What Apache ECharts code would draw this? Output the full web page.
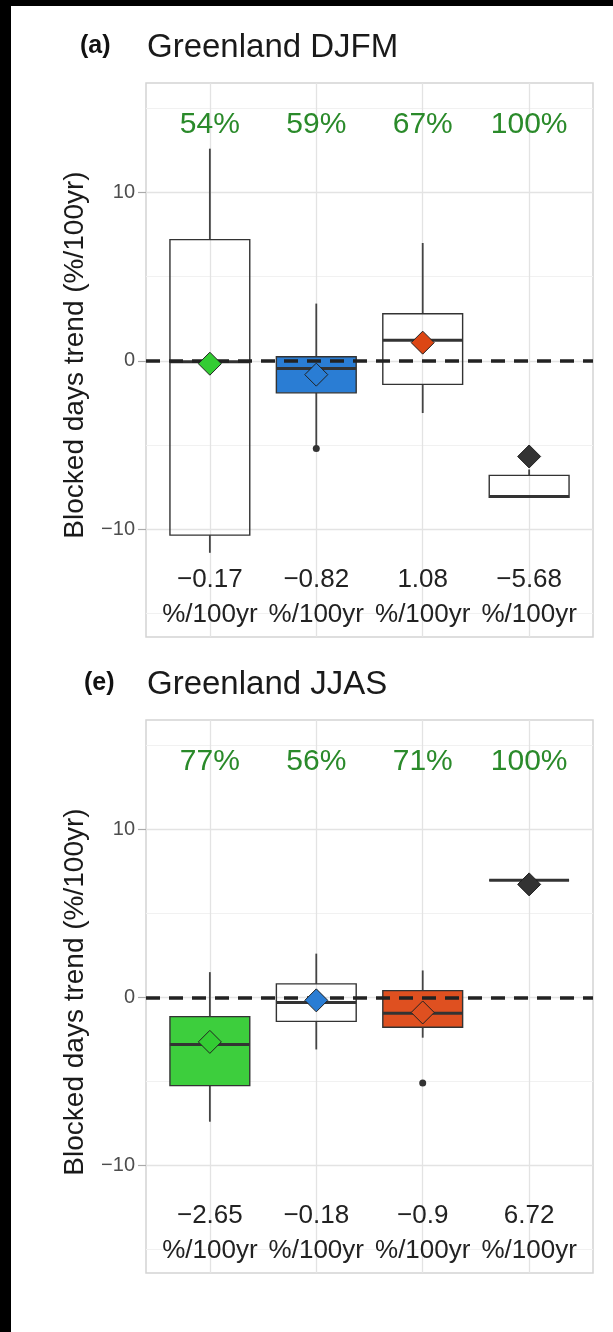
<!DOCTYPE html>
<html>
<head>
<meta charset="utf-8">
<title>Greenland blocked days trend</title>
<script src="https://cdn.jsdelivr.net/npm/echarts@6.0.0/dist/echarts.min.js"></script>
<style>
  html, body { margin: 0; padding: 0; background: #fff; }
  #main { width: 613px; height: 1332px; }
</style>
</head>
<body>
<div id="main"></div>
<script>
// x positions of the four boxes (discrete positions, ggplot style)
var positions = [1, 2, 3, 4];
var yTicks = [-10, 0, 10];
var yMinor = [-15, -5, 5, 15];

// (a) Greenland DJFM
var djfmLow    = [-11.4, -5.1, -3.1, -8.1];
var djfmQ1     = [-10.35, -1.9, -1.4, -8.1];
var djfmMedian = [-0.05, -0.45, 1.23, -8.05];
var djfmQ3     = [7.2, 0.24, 2.8, -6.8];
var djfmHigh   = [12.6, 3.4, 7.0, -6.45];
var djfmMean   = [-0.17, -0.82, 1.08, -5.68];
var djfmOutliers = [[2, -5.2]];
var djfmPct    = ['54%', '59%', '67%', '100%'];
var djfmTrend  = ['−0.17', '−0.82', '1.08', '−5.68'];

// (e) Greenland JJAS
var jjasLow    = [-7.4, -3.1, -2.4, 6.97];
var jjasQ1     = [-5.25, -1.43, -1.78, 6.97];
var jjasMedian = [-2.8, -0.3, -0.95, 6.97];
var jjasQ3     = [-1.15, 0.8, 0.4, 6.97];
var jjasHigh   = [1.5, 2.6, 1.6, 6.97];
var jjasMean   = [-2.65, -0.18, -0.9, 6.72];
var jjasOutliers = [[3, -5.1]];
var jjasPct    = ['77%', '56%', '71%', '100%'];
var jjasTrend  = ['−2.65', '−0.18', '−0.9', '6.72'];

var unitText = '%/100yr';

var FONT = '"Liberation Sans", Arial, sans-serif';
// white boxes are left unfilled so the grid shows through
var djfmFill = [null, '#2a7dd4', null, null];
var djfmMeanColor = ['#33cc33', '#2a7dd4', '#dc4614', '#333333'];
var jjasFill = ['#3dce3d', null, '#df5020', null];
var jjasMeanColor = ['#33cc33', '#2a7dd4', '#df5020', '#333333'];

function boxSeries(idx, low, q1, med, q3, high, fills) {
  return {
    type: 'custom',
    xAxisIndex: idx,
    yAxisIndex: idx,
    z: 2,
    silent: true,
    encode: { x: 0, y: [1, 2, 3, 4, 5] },
    data: positions.map(function (x, i) {
      return [x, low[i], q1[i], med[i], q3[i], high[i]];
    }),
    renderItem: function (params, api) {
      var x = api.value(0);
      var half = 0.375;
      var pLo = api.coord([x, api.value(1)]);
      var pQ1 = api.coord([x, api.value(2)]);
      var pMed = api.coord([x, api.value(3)]);
      var pQ3 = api.coord([x, api.value(4)]);
      var pHi = api.coord([x, api.value(5)]);
      var left = api.coord([x - half, 0])[0];
      var right = api.coord([x + half, 0])[0];
      var whisker = { stroke: '#444', lineWidth: 1.8 };
      var fill = fills[params.dataIndex];
      return {
        type: 'group',
        children: [
          { type: 'line', shape: { x1: pHi[0], y1: pHi[1], x2: pQ3[0], y2: pQ3[1] }, style: whisker },
          { type: 'line', shape: { x1: pQ1[0], y1: pQ1[1], x2: pLo[0], y2: pLo[1] }, style: whisker },
          { type: 'rect', shape: { x: left, y: pQ3[1], width: right - left, height: pQ1[1] - pQ3[1] },
            style: { fill: fill || 'rgba(255,255,255,0)', stroke: '#333', lineWidth: 1.4 } },
          { type: 'line', shape: { x1: left, y1: pMed[1], x2: right, y2: pMed[1] },
            style: { stroke: '#333', lineWidth: 3 } }
        ]
      };
    }
  };
}

function gridLines(idx) {
  var lines = [];
  yMinor.forEach(function (v) {
    lines.push({ yAxis: v, lineStyle: { color: '#f1f1f1', width: 1, type: 'solid' } });
  });
  yTicks.forEach(function (v) {
    lines.push({ yAxis: v, lineStyle: { color: '#e3e3e3', width: 1.3, type: 'solid' } });
  });
  positions.forEach(function (v) {
    lines.push({ xAxis: v, lineStyle: { color: '#e3e3e3', width: 1.3, type: 'solid' } });
  });
  return {
    type: 'line', xAxisIndex: idx, yAxisIndex: idx, data: [], z: 1, silent: true,
    markLine: { z: 1, symbol: 'none', silent: true, animation: false, label: { show: false },
      emphasis: { disabled: true }, lineStyle: { type: 'solid' }, data: lines }
  };
}

function zeroLine(idx) {
  return {
    type: 'line', xAxisIndex: idx, yAxisIndex: idx, data: [], z: 3, silent: true,
    markLine: { z: 3, symbol: 'none', silent: true, animation: false, label: { show: false },
      emphasis: { disabled: true },
      lineStyle: { color: '#222', width: 3.6, type: [14, 9] },
      data: [{ yAxis: 0 }] }
  };
}

function meanSeries(idx, means, colors) {
  return {
    type: 'scatter', xAxisIndex: idx, yAxisIndex: idx, z: 5, silent: true,
    symbol: 'diamond', symbolSize: [23, 23],
    itemStyle: { borderColor: '#222', borderWidth: 1, opacity: 1 },
    data: positions.map(function (x, i) {
      return { value: [x, means[i]], itemStyle: { color: colors[i] } };
    })
  };
}

function outlierSeries(idx, pts) {
  return {
    type: 'scatter', xAxisIndex: idx, yAxisIndex: idx, z: 4, silent: true,
    symbol: 'circle', symbolSize: 7, itemStyle: { color: '#333', opacity: 1 },
    data: pts
  };
}

function textSeries(idx, yVal, texts, size, color) {
  return {
    type: 'scatter', xAxisIndex: idx, yAxisIndex: idx, z: 6, silent: true,
    symbolSize: 1, itemStyle: { color: 'rgba(0,0,0,0)', opacity: 1 },
    emphasis: { disabled: true },
    label: {
      show: true, position: 'inside', fontSize: size, color: color, fontFamily: FONT,
      formatter: function (p) { return texts[p.dataIndex]; }
    },
    data: positions.map(function (x) { return [x, yVal]; })
  };
}

function xAxisFor(idx) {
  return { gridIndex: idx, type: 'value', min: 0.4, max: 4.6, show: false };
}

function yAxisFor(idx) {
  return {
    gridIndex: idx, type: 'value', min: -16.4, max: 16.5,
    axisLine: { show: false },
    axisTick: { show: true, length: 8, customValues: yTicks, lineStyle: { color: '#aaa', width: 1.2 } },
    axisLabel: {
      show: true, customValues: yTicks, color: '#4d4d4d', fontSize: 20, fontFamily: FONT, margin: 11,
      formatter: function (v) { return String(v).replace('-', '−'); }
    },
    splitLine: { show: false }
  };
}

var unitLabels = positions.map(function () { return unitText; });

var chart = echarts.init(document.getElementById('main'));
chart.setOption({
  animation: false,
  backgroundColor: '#fff',
  grid: [
    { left: 146, top: 83, width: 447, height: 554, show: true, borderColor: '#d4d4d4', borderWidth: 1.5, backgroundColor: '#fff' },
    { left: 146, top: 720, width: 447, height: 553, show: true, borderColor: '#d4d4d4', borderWidth: 1.5, backgroundColor: '#fff' }
  ],
  xAxis: [xAxisFor(0), xAxisFor(1)],
  yAxis: [yAxisFor(0), yAxisFor(1)],
  graphic: [
    { type: 'rect', shape: { x: 0, y: 0, width: 11, height: 1332 }, style: { fill: '#000' } },
    { type: 'rect', shape: { x: 0, y: 0, width: 613, height: 6 }, style: { fill: '#000' } },
    { type: 'text', x: 80, y: 46, style: { text: '(a)', font: 'bold 25px ' + FONT, fill: '#111', verticalAlign: 'middle' } },
    { type: 'text', x: 147, y: 48, style: { text: 'Greenland DJFM', font: '33px ' + FONT, fill: '#1a1a1a', verticalAlign: 'middle' } },
    { type: 'text', x: 84, y: 683, style: { text: '(e)', font: 'bold 25px ' + FONT, fill: '#111', verticalAlign: 'middle' } },
    { type: 'text', x: 147, y: 685, style: { text: 'Greenland JJAS', font: '33px ' + FONT, fill: '#1a1a1a', verticalAlign: 'middle' } },
    { type: 'text', x: 75, y: 355, rotation: Math.PI / 2,
      style: { text: 'Blocked days trend (%/100yr)', font: '28px ' + FONT, fill: '#1a1a1a', align: 'center', verticalAlign: 'middle' } },
    { type: 'text', x: 75, y: 992, rotation: Math.PI / 2,
      style: { text: 'Blocked days trend (%/100yr)', font: '28px ' + FONT, fill: '#1a1a1a', align: 'center', verticalAlign: 'middle' } }
  ],
  series: [
    gridLines(0),
    boxSeries(0, djfmLow, djfmQ1, djfmMedian, djfmQ3, djfmHigh, djfmFill),
    zeroLine(0),
    outlierSeries(0, djfmOutliers),
    meanSeries(0, djfmMean, djfmMeanColor),
    textSeries(0, 14.0, djfmPct, 30, '#2a8a2a'),
    textSeries(0, -13.0, djfmTrend, 26, '#222'),
    textSeries(0, -15.1, unitLabels, 26, '#222'),

    gridLines(1),
    boxSeries(1, jjasLow, jjasQ1, jjasMedian, jjasQ3, jjasHigh, jjasFill),
    zeroLine(1),
    outlierSeries(1, jjasOutliers),
    meanSeries(1, jjasMean, jjasMeanColor),
    textSeries(1, 14.0, jjasPct, 30, '#2a8a2a'),
    textSeries(1, -13.0, jjasTrend, 26, '#222'),
    textSeries(1, -15.1, unitLabels, 26, '#222')
  ]
});
</script>
</body>
</html>
